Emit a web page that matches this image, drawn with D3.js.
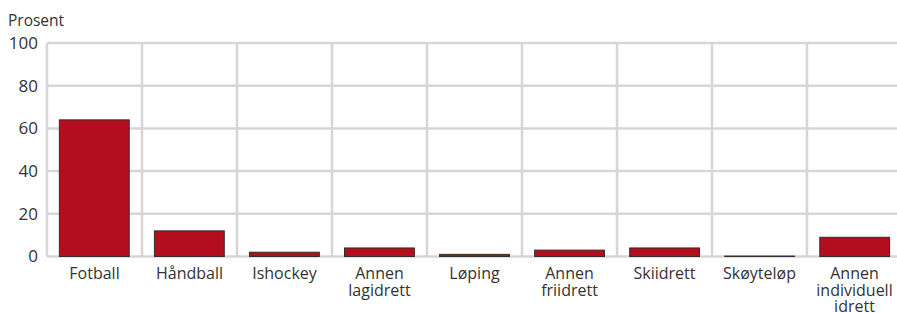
<!DOCTYPE html>
<html><head><meta charset="utf-8">
<script src="https://cdn.jsdelivr.net/npm/d3@7"></script>
<style>
body{margin:0;background:#fff;}
svg{display:block;font-family:"Open Sans",sans-serif;}
</style></head><body>
<svg id="c" width="897" height="313"></svg>
<script>
const categories = [["Fotball"],["Håndball"],["Ishockey"],["Annen","lagidrett"],["Løping"],["Annen","friidrett"],["Skiidrett"],["Skøyteløp"],["Annen","individuell","idrett"]];
const values = [64, 12, 2, 4, 1, 3, 4, 0.2, 9];
const yTicks = [0, 20, 40, 60, 80, 100];
const yTitle = "Prosent";

(function(){
const svg = d3.select("#c");
const mLeft = 47, mRight = 902, mTop = 43, mBottom = 256.5;
const x = d3.scaleBand().domain(categories.map((d,i)=>i)).range([mLeft,mRight]).paddingInner(0.265).paddingOuter(0.13);
const xg = d3.scaleBand().domain(categories.map((d,i)=>i)).range([mLeft,mRight]);
const y = d3.scaleLinear().domain([0,100]).range([mBottom, mTop]);
const grid = "#d6d6d8";
const g = svg.append("g");
g.selectAll("line.h").data(yTicks).join("line").attr("class","h")
  .attr("x1", mLeft).attr("x2", 897).attr("y1", d=>y(d)).attr("y2", d=>y(d))
  .attr("stroke", grid).attr("stroke-width", 2.5);
g.selectAll("line.v").data(categories.map((d,i)=>i)).join("line").attr("class","v")
  .attr("x1", d=>xg(d)).attr("x2", d=>xg(d)).attr("y1", mTop).attr("y2", mBottom)
  .attr("stroke", grid).attr("stroke-width", 2.5);
g.selectAll("rect").data(values).join("rect")
  .attr("x", (d,i)=>x(i)).attr("width", x.bandwidth())
  .attr("y", d=>y(d)).attr("height", d=>mBottom - y(d))
  .attr("fill", "#b20e1e").attr("stroke", "#3a2a2a").attr("stroke-width", 1);
const yAxis = d3.axisLeft(y).tickValues(yTicks).tickSize(0).tickPadding(0);
const ya = svg.append("g").attr("transform", `translate(${mLeft-9},0)`).call(yAxis);
ya.select(".domain").remove();
ya.selectAll("text").attr("font-size", 17).attr("fill", "#333").attr("font-family", '"Open Sans",sans-serif');
svg.append("text").attr("x", 8).attr("y", 26).attr("font-size", 15.5).attr("fill", "#333").text(yTitle);
const xl = svg.append("g");
categories.forEach((lines,i)=>{
  const cx = xg(i)+xg.bandwidth()/2;
  const t = xl.append("text").attr("x", cx).attr("y", 279)
    .attr("text-anchor","middle").attr("font-size", 16).attr("fill","#333");
  lines.forEach((l,j)=>t.append("tspan").attr("x", cx).attr("dy", j?16.5:0).text(l));
});
})();
</script></body></html>
